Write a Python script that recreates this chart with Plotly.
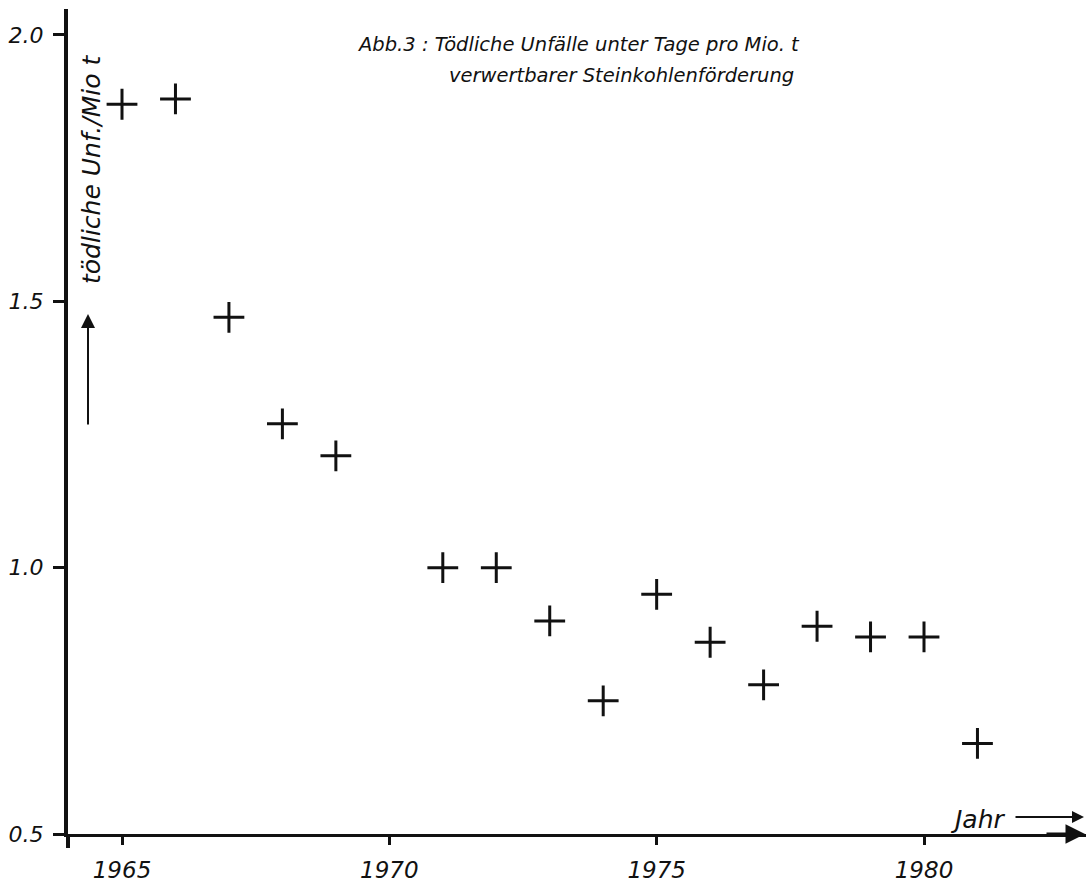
import plotly.graph_objects as go

# Fatal underground accidents per million tonnes of usable hard-coal output
years = [1965, 1966, 1967, 1968, 1969, 1971, 1972, 1973, 1974, 1975,
         1976, 1977, 1978, 1979, 1980, 1981]
rate = [1.87, 1.88, 1.47, 1.27, 1.21, 1.00, 1.00, 0.90, 0.75, 0.95,
        0.86, 0.78, 0.89, 0.87, 0.87, 0.67]

x_ticks = [1965, 1970, 1975, 1980]
x_tick_labels = ["1965", "1970", "1975", "1980"]
y_ticks = [0.5, 1.0, 1.5, 2.0]
y_tick_labels = ["0.5", "1.0", "1.5", "2.0"]

title_line1 = "Abb.3 : Tödliche Unfälle unter Tage pro Mio. t"
title_line2 = "verwertbarer Steinkohlenförderung"
y_title = "tödliche Unf./Mio t"
x_title = "Jahr"

FONT = "DejaVu Sans"
INK = "#111111"

fig = go.Figure()
fig.add_trace(go.Scatter(
    x=years, y=rate, mode="markers",
    marker=dict(symbol="cross-thin", size=22,
                line=dict(color=INK, width=3), color=INK),
    hoverinfo="x+y", showlegend=False,
))

W, H = 1086, 883
ML, MR, MT, MB = 68, 0, 9, 49

fig.update_layout(
    width=W, height=H, autosize=False,
    margin=dict(l=ML, r=MR, t=MT, b=MB, pad=0),
    paper_bgcolor="white", plot_bgcolor="white",
    font=dict(family=FONT, color=INK),
    xaxis=dict(
        range=[1963.99, 1983.03], showgrid=False, zeroline=False,
        showline=True, linecolor=INK, linewidth=3,
        tickmode="array", tickvals=x_ticks, ticktext=x_tick_labels,
        ticks="outside", ticklen=8, tickwidth=2.5, tickcolor=INK,
        ticklabelstandoff=5,
        tickfont=dict(family=FONT, size=23, color=INK, style="italic"),
    ),
    yaxis=dict(
        range=[0.5, 2.0488], showgrid=False, zeroline=False,
        showline=True, linecolor=INK, linewidth=4,
        tickmode="array", tickvals=y_ticks, ticktext=y_tick_labels,
        ticks="outside", ticklen=11, tickwidth=2.5, tickcolor=INK,
        ticklabelstandoff=5,
        tickfont=dict(family=FONT, size=22, color=INK, style="italic"),
    ),
)

pw = W - ML - MR
ph = H - MT - MB


def px(xp):
    return (xp - ML) / pw


def py(yp):
    return (H - MB - yp) / ph


# y axis stub running past the x axis
fig.add_shape(type="line", xref="paper", yref="paper",
              x0=0, x1=0, y0=py(834), y1=py(848),
              line=dict(color=INK, width=4))

# arrowhead at the end of the x axis
fig.add_annotation(xref="paper", yref="paper", x=px(1085), y=py(834),
                   ax=-40, ay=0, showarrow=True, arrowhead=2, arrowsize=1.3,
                   arrowwidth=3, arrowcolor=INK, text="")

# title block
fig.add_annotation(xref="paper", yref="paper", x=px(355), y=py(45),
                   xanchor="left", yanchor="middle", showarrow=False,
                   text=title_line1,
                   font=dict(family=FONT, size=19.5, color=INK, style="italic"))
fig.add_annotation(xref="paper", yref="paper", x=px(447), y=py(76),
                   xanchor="left", yanchor="middle", showarrow=False,
                   text=title_line2,
                   font=dict(family=FONT, size=19.5, color=INK, style="italic"))

# vertical axis title with upward arrow
fig.add_annotation(xref="paper", yref="paper", x=px(91), y=py(170),
                   xanchor="center", yanchor="middle", showarrow=False,
                   textangle=-90, text=y_title,
                   font=dict(family=FONT, size=25, color=INK, style="italic"))
fig.add_annotation(xref="paper", yref="paper", x=px(88), y=py(314),
                   ax=0, ay=112, showarrow=True, arrowhead=2, arrowsize=1.4,
                   arrowwidth=2, arrowcolor=INK, text="")

# horizontal axis title with arrow
fig.add_annotation(xref="paper", yref="paper", x=px(1008), y=py(819),
                   xanchor="right", yanchor="middle", showarrow=False,
                   text=x_title,
                   font=dict(family=FONT, size=25, color=INK, style="italic"))
fig.add_annotation(xref="paper", yref="paper", x=px(1084), y=py(817),
                   ax=-70, ay=0, showarrow=True, arrowhead=2, arrowsize=1.2,
                   arrowwidth=2, arrowcolor=INK, text="")

fig.write_html("out.html")
